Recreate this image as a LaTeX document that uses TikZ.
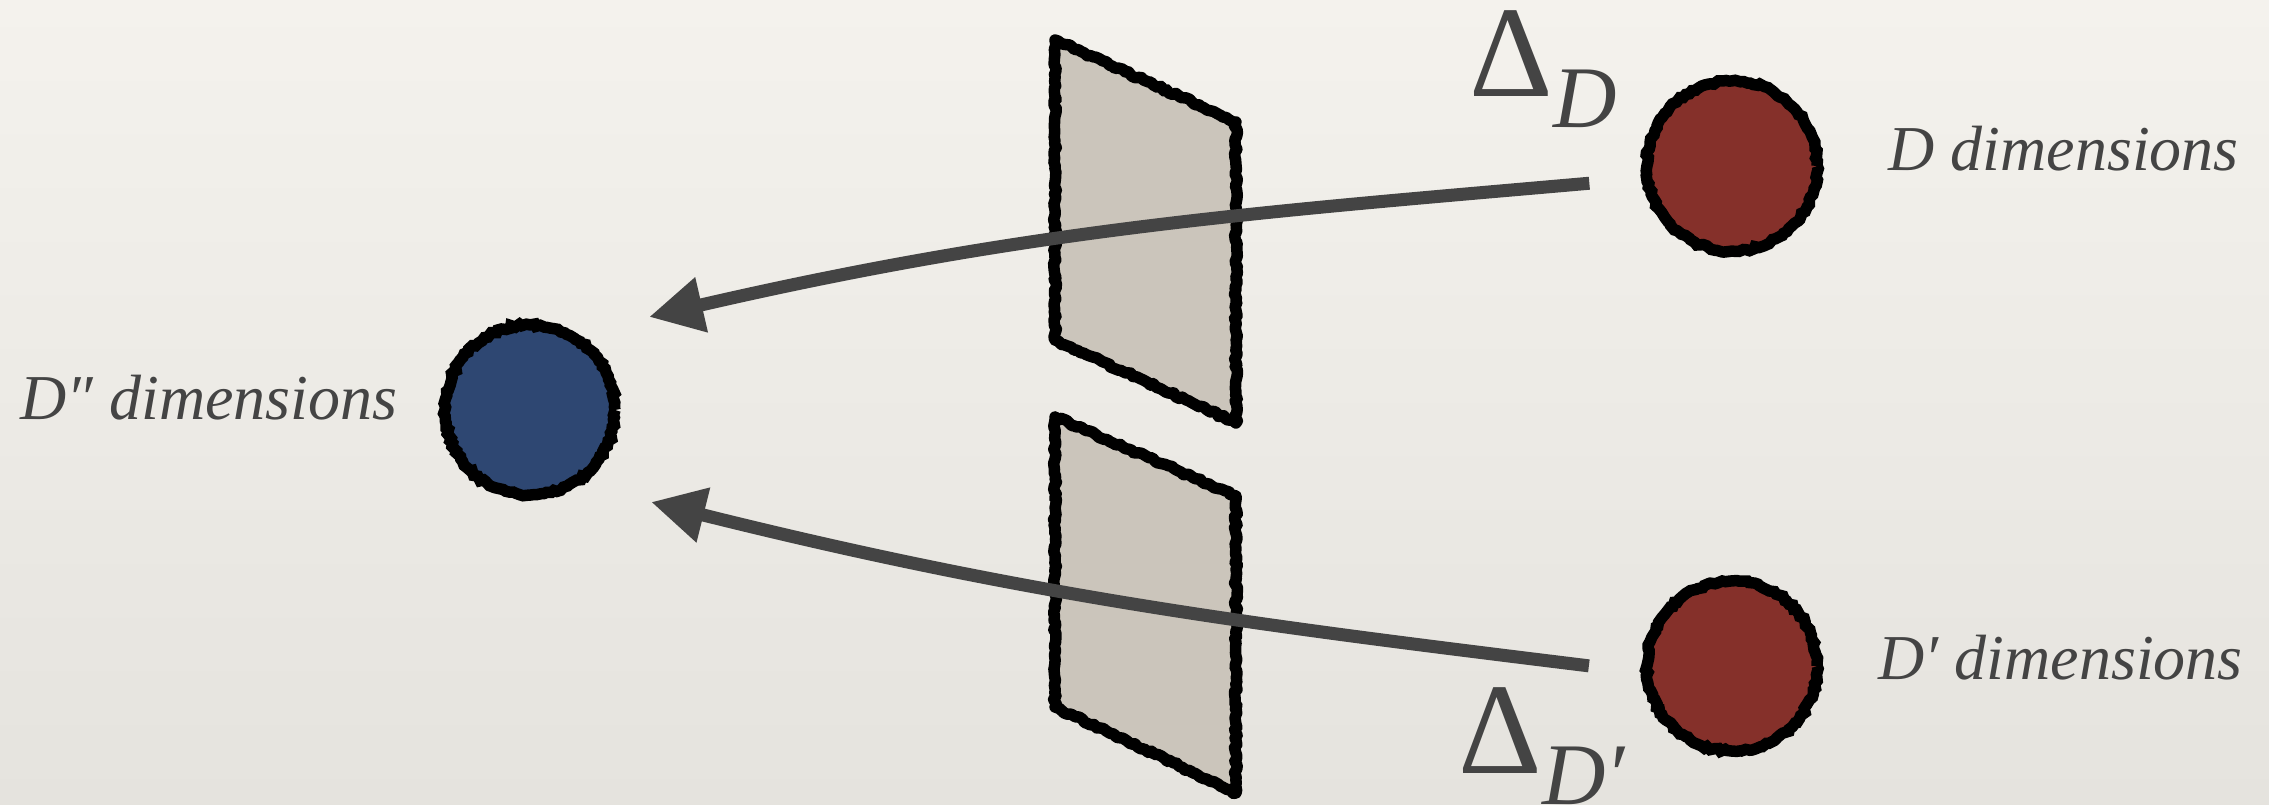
\documentclass[tikz,border=0pt]{standalone}
\usepackage{fontspec}
\setmainfont{Liberation Serif}
\usetikzlibrary{arrows.meta, positioning, decorations.pathmorphing}
\definecolor{paperhi}{RGB}{244,242,237}
\definecolor{paperlo}{RGB}{229,227,222}
\definecolor{ballred}{RGB}{133,48,42}
\definecolor{ballblue}{RGB}{46,71,114}
\definecolor{planegray}{RGB}{203,197,187}
\definecolor{inkgray}{RGB}{68,68,68}
\pgfmathsetseed{7}

\begin{document}
\begin{tikzpicture}[
    x=0.1mm, y=0.1mm,
    rough/.style={decorate, decoration={random steps, segment length=0.35mm, amplitude=0.15mm}},
    ball/.style={circle, draw=black, line width=1.15mm, minimum size=17mm, inner sep=0pt, rough},
    plane/.style={draw=black, line width=1.15mm, fill=planegray, line join=round, rough},
    arr/.style={-{Triangle[length=5.4mm, width=5.3mm]}, line width=1.3mm, draw=inkgray},
    lbl/.style={anchor=base west, inner sep=0pt, text=inkgray, font=\fontsize{18.2}{20}\selectfont\itshape},
    delta/.style={anchor=base west, inner sep=0pt, text=inkgray}
]
\useasboundingbox (0,0) rectangle (2269,805);
\shade[top color=paperhi, bottom color=paperlo] (0,0) rectangle (2269,805);

% the two cut planes
\path[plane] (1055,765) -- (1236,683) -- (1236,382) -- (1055,465) -- cycle;
\path[plane] (1055,388) -- (1236,309) -- (1236,12) -- (1055,98) -- cycle;

\node[ball, fill=ballred] (d) at (1732,639) {};
\node[ball, fill=ballred] (dp) at (1732,139) {};
\node[ball, fill=ballblue] (ddd) at (530,395) {};

\node[lbl] (labd) at (1888,634) {D dimensions};
\node[lbl] (labdp) at (1878,125) {D′ dimensions};
\node[lbl] (labddd) at (20,385) {D″ dimensions};

\node[delta] (deltad) at (1469,708) {{\fontsize{37}{37}\selectfont Δ}\raisebox{-3.1mm}{\fontsize{25}{25}\selectfont\itshape D}};
\node[delta] (deltadp) at (1458,31) {{\fontsize{37}{37}\selectfont Δ}\raisebox{-3.1mm}{\fontsize{25}{25}\selectfont\itshape D′}};

\coordinate (tipd) at ([shift={(119,93)}]ddd.center);
\coordinate (tipdp) at ([shift={(121,-92)}]ddd.center);

\draw[arr, shorten <=5.3mm] (d.188) to[out=185, in=13] (tipd);
\draw[arr, shorten <=5.3mm] (dp.184) to[out=173, in=346] (tipdp);
\end{tikzpicture}
\end{document}
